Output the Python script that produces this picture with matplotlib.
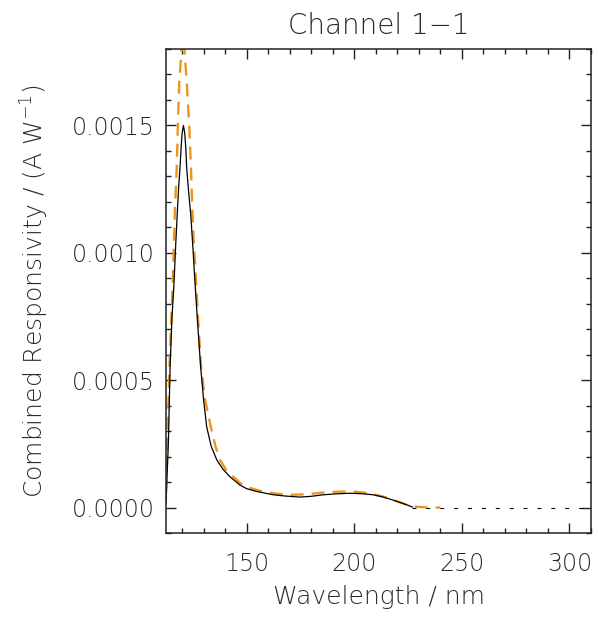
import matplotlib
matplotlib.use("Agg")
import matplotlib.pyplot as plt
from matplotlib.ticker import MultipleLocator

# Combined responsivity (nm, A/W)
wave_a = [112.5, 113.6, 114.4, 115.3, 116.2, 117.0, 117.8, 118.4, 119.0, 119.5,
          120.0, 120.6, 121.2, 121.7, 122.1, 123.0, 124.0, 125.0, 126.0, 127.3,
          128.6, 130.0, 131.4, 133.5, 136.1, 139.0, 142.2, 146.9, 150.0, 154.6,
          162.4, 168.0, 174.8, 180.0, 185.6, 192.0, 198.0, 204.0, 208.8, 213.0,
          216.6, 220.5, 224.3, 227.0]
resp_a = [0.000018, 0.000253, 0.000552, 0.00075, 0.000878, 0.00103, 0.001165,
          0.00126, 0.001334, 0.00141, 0.00147, 0.0015, 0.00147, 0.00141,
          0.001334, 0.00124, 0.00115, 0.00102, 0.000878, 0.00071, 0.000552,
          0.00042, 0.000317, 0.00024, 0.000187, 0.00015, 0.000121, 0.000088,
          0.000074, 0.000063, 0.00005, 0.000045, 0.000041, 0.000044, 0.00005,
          0.000054, 0.000056, 0.000054, 0.00005, 0.000042, 0.000033, 0.000022,
          0.000011, 0.000002]

wave_b = [112.5, 113.3, 114.1, 115.6, 116.7, 117.5, 118.0, 118.7, 119.5, 120.0,
          120.4, 120.8, 121.3, 122.1, 123.3, 124.1, 124.7, 125.5, 126.5, 127.7,
          128.8, 130.5, 133.3, 135.5, 137.6, 141.0, 144.6, 146.9, 150.5, 154.6,
          157.7, 164.0, 171.6, 178.0, 185.6, 192.0, 199.5, 206.0, 213.4, 219.0,
          224.3, 229.0, 234.0, 240.0]
resp_b = [0.000058, 0.0003, 0.000552, 0.000878, 0.00118, 0.001334, 0.0015,
          0.001673, 0.00177, 0.00183, 0.00185, 0.00183, 0.00177, 0.001673,
          0.0015, 0.001334, 0.00118, 0.00103, 0.000878, 0.0007, 0.000552,
          0.00043, 0.000317, 0.00024, 0.000187, 0.00014, 0.000115, 0.000096,
          0.00008, 0.000069, 0.000063, 0.000054, 0.00005, 0.000052, 0.000059,
          0.000062, 0.000063, 0.000057, 0.000043, 0.000027, 0.000011, 0.000003,
          0.0, 0.0]

tail_x = [227.0, 310.0]
tail_y = [0.0, 0.0]

plt.rcParams["font.family"] = ["DejaVu Sans"]
plt.rcParams["font.weight"] = "light"
plt.rcParams["mathtext.fontset"] = "custom"
plt.rcParams["mathtext.rm"] = "DejaVu Sans:light"
text_col = "#2a2a2a"

fig = plt.figure(figsize=(5.98, 6.22), dpi=100)
ax = fig.add_axes([0.2776, 0.1431, 0.7107, 0.7781])

ax.plot(wave_b, resp_b, color="#EA951F", lw=1.7, linestyle=(0, (5.5, 3.4)))
ax.plot(wave_a, resp_a, color="black", lw=0.9)
ax.plot(tail_x, tail_y, color="black", lw=0.8, linestyle=(0, (3.5, 9)))

ax.set_xlim(112.5, 310)
ax.set_ylim(-0.0001, 0.0018)
ax.xaxis.set_major_locator(MultipleLocator(50))
ax.xaxis.set_minor_locator(MultipleLocator(10))
ax.yaxis.set_major_locator(MultipleLocator(0.0005))
ax.yaxis.set_minor_locator(MultipleLocator(0.0001))
ax.yaxis.set_major_formatter(plt.FuncFormatter(lambda v, p: f"{v:.4f}"))

ax.tick_params(which="both", direction="in", top=True, right=True,
               colors="#222222", labelcolor=text_col, labelsize=17, width=1)
ax.tick_params(which="major", length=7.5)
ax.tick_params(which="minor", length=3.8)
ax.tick_params(axis="x", pad=14)
ax.tick_params(axis="y", pad=8)
for s in ax.spines.values():
    s.set_linewidth(1.1)
    s.set_color("#222222")

ax.set_xlabel("Wavelength / nm", fontsize=18, color=text_col,
              fontweight="light", labelpad=6)
ax.set_ylabel("Combined Responsivity / (A W$^{\\mathrm{-1}}$)", fontsize=18,
              color=text_col, fontweight="light", labelpad=15)
ax.set_title("Channel 1\u22121", fontsize=20, color=text_col,
             fontweight="light", pad=11)

fig.savefig("out.png", dpi=100)
